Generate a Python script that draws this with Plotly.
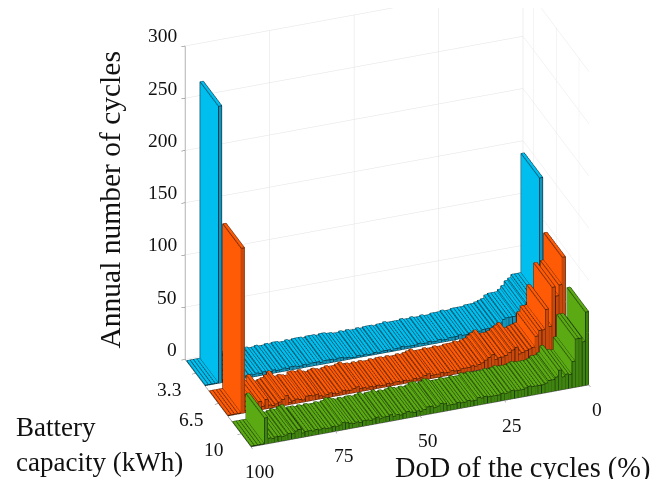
import plotly.graph_objects as go
import numpy as np

dod = list(range(1, 101))
capacity_labels = ["3.3", "6.5", "10"]
blue = [140,26,26,26,23,21,17,14,12,12,12,11,8,7,6,5,5,5,4,4,4,4,3,3,4,3,3,3,2,2,
        3,2,2,3,2,2,3,2,2,2,2,3,2,2,1,2,2,2,1,2,1,1,2,1,2,1,1,2,2,3,
        3,2,3,3,3,2,3,3,3,2,3,2,2,3,3,2,3,2,2,3,2,2,3,2,3,2,3,2,2,3,2,2,3,2,3,
        265,0.5,0.5,0.5,0.5]
orange = [93,67,57,66,29,46,27,27,22,12,11,10,9,8,15,13,11,9,8,8,7,12,10,8,6,5,4,5,4,4,
          4,3,3,4,3,3,4,3,3,3,5,4,3,2,3,2,2,3,2,3,3,2,3,2,2,3,2,3,2,3,
          3,5,4,3,3,4,3,2,3,4,3,2,3,5,4,5,5,2,3,4,3,2,9,6,4,3,2,3,9,3,8,3,2,2,2,
          158,0.5,0.5,0.5,0.5]
green = [70,42,46,46,25,13,14,12,19,13,11,11,9,8,8,8,8,9,8,7,7,7,8,7,6,7,6,6,6,6,
         7,6,7,5,5,6,5,5,6,5,5,5,7,8,6,5,7,7,5,4,5,4,5,6,5,4,5,4,6,5,
         5,4,6,5,4,5,5,4,5,4,5,6,7,5,4,5,4,4,5,4,5,4,5,5,4,8,7,5,6,5,4,5,5,4,5,
         25,0.5,0.5,0.5,0.5]
z_ticks = [0, 50, 100, 150, 200, 250, 300]
x_ticks = [0, 25, 50, 75, 100]
series = [(1.0, blue, "#00BFEF", "#1593B8", "#07303e"),
          (2.0, orange, "#FF5A05", "#C9480C", "#451a04"),
          (3.02, green, "#5BAA14", "#3F8410", "#163305")]
half = 0.406
XR = [0, 100]; YR = [0.536, 3.436]; ZR = [0, 300]

fig = go.Figure()
for row, vals, c1, c2, ce in series:
    X, Y, Z, I, J, K, FC = [], [], [], [], [], [], []
    ex, ey, ez = [], [], []
    for d, h in zip(dod, vals):
        x0, x1 = d - 1 + 0.03, d - 0.03
        y0, y1 = row - half, row + half
        n = len(X)
        for a in (x0, x1):
            for b in (y0, y1):
                for c in (0, h):
                    X.append(a); Y.append(b); Z.append(c)
        v = lambda ia, ib, ic: n + 4*ia + 2*ib + ic
        quads = [((v(0,0,1), v(1,0,1), v(1,1,1), v(0,1,1)), c1),
                 ((v(1,0,0), v(1,1,0), v(1,1,1), v(1,0,1)), c1),
                 ((v(0,1,0), v(1,1,0), v(1,1,1), v(0,1,1)), c2)]
        for q, col in quads:
            I += [q[0], q[0]]; J += [q[1], q[2]]; K += [q[2], q[3]]; FC += [col, col]
        for path in [[(x0,y0,h),(x1,y0,h),(x1,y1,h),(x0,y1,h),(x0,y0,h)],
                     [(x1,y0,0),(x1,y0,h)], [(x1,y1,0),(x1,y1,h)], [(x0,y1,0),(x0,y1,h)],
                     [(x1,y1,0),(x0,y1,0)]]:
            for p in path:
                ex.append(p[0]); ey.append(p[1]); ez.append(p[2])
            ex.append(None); ey.append(None); ez.append(None)
    fig.add_trace(go.Mesh3d(x=X, y=Y, z=Z, i=I, j=J, k=K, facecolor=FC, flatshading=True,
                            lighting=dict(ambient=1, diffuse=0, specular=0, roughness=1, fresnel=0),
                            hoverinfo="skip", showscale=False))
    fig.add_trace(go.Scatter3d(x=ex, y=ey, z=ez, mode="lines", line=dict(color=ce, width=1.6),
                               hoverinfo="skip", showlegend=False))

r = np.array([-0.9373, 0.3484, 0.0])
w = np.array([-0.1719, -0.4627, 0.8697])
n = np.cross(r, w)
D = 2.0
ASPECT = 1.505
c = (-59*r - 38.5*w) / 288
eye = c + D*n

font = dict(family="Liberation Serif", size=19.5, color="#111")
def ann(x, y, z, text, dx, dy, anchor="center"):
    return dict(x=x, y=y, z=z, text=text, showarrow=False, xshift=dx, yshift=dy, font=font, xanchor=anchor)
anns = [ann(100, YR[0], t, str(t), -6, 10, "right") for t in z_ticks]
anns += [ann(t, YR[1], 0, str(t), 8, -24.5) for t in x_ticks]
anns += [ann(100, p, 0, lab, -27, -16) for p, lab in zip([1, 2, 3], capacity_labels)]

axis = dict(showbackground=False, gridcolor="#e2e2e2", gridwidth=1, zeroline=False, showspikes=False,
            showline=True, linecolor="#666", linewidth=1, ticks="outside", ticklen=4, tickcolor="#666",
            showticklabels=False, title=dict(text=""))
tfont = dict(family="Liberation Serif", size=29.5, color="#111")
dfont = dict(family="Liberation Serif", size=28.4, color="#111")
bfont = dict(family="Liberation Serif", size=27, color="#111")
fig.update_layout(
    width=660, height=479, margin=dict(l=0, r=0, t=0, b=0), paper_bgcolor="white", showlegend=False,
    annotations=[
        dict(text="Annual number of cycles", x=101/660, y=1-191.5/479, xref="paper", yref="paper", showarrow=False, textangle=-90, font=tfont, xanchor="center", yanchor="middle"),
        dict(text="DoD of the cycles (%)", x=514.5/660, y=1-459.5/479, xref="paper", yref="paper", showarrow=False, font=dfont, xanchor="center", yanchor="middle"),
        dict(text="Battery<br>capacity (kWh)", x=6/660, y=1-436/479, xref="paper", yref="paper", showarrow=False, font=bfont, align="left", xanchor="left", yanchor="middle"),
    ],
    scene=dict(domain=dict(x=[0, 1], y=[0, 1]),
               xaxis=dict(axis, range=XR, tickmode="array", tickvals=x_ticks),
               yaxis=dict(axis, range=YR, tickmode="array", tickvals=[1,2,3]),
               zaxis=dict(axis, range=ZR, tickmode="array", tickvals=z_ticks),
               aspectmode="manual", aspectratio=dict(x=ASPECT, y=0.525*ASPECT, z=ASPECT),
               annotations=anns,
               camera=dict(projection=dict(type="orthographic"), up=dict(x=0,y=0,z=1),
                           eye=dict(x=eye[0],y=eye[1],z=eye[2]), center=dict(x=c[0],y=c[1],z=c[2]))))
fig.write_html("out.html")
